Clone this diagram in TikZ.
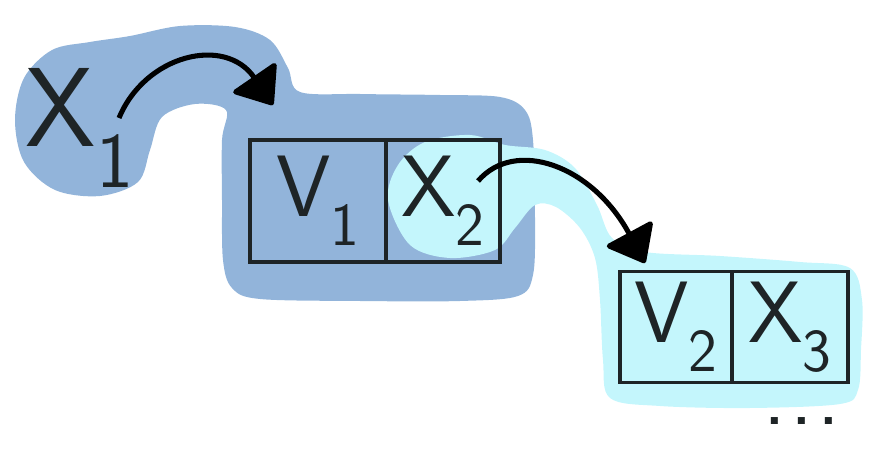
\documentclass[tikz,border=0pt]{standalone}
\usepackage{tikz}
\usepackage{xcolor}
\usetikzlibrary{positioning,arrows.meta}
\definecolor{deepblue}{HTML}{92B4DA}
\definecolor{paleblue}{HTML}{C4F6FC}
\definecolor{ink}{HTML}{1E2426}

\begin{document}
\begin{tikzpicture}[x=0.025cm, y=-0.025cm,
  every node/.style = {font=\sffamily\fontsize{62}{62}\selectfont,
    inner sep=0pt, outer sep=0pt, text=ink},
  cell/.style = {draw=ink, line width=2.6pt, rectangle},
  link/.style = {draw=black, line width=3.6pt,
    -{Triangle[length=0.9cm,width=1.4cm,round]}},
  blob/.style = {smooth cycle, tension=0.55}]
  \useasboundingbox (0,0) rectangle (890,452);
  \fill[deepblue] plot[blob] coordinates {(15,120) (24,78) (52,50) (90,42)
    (130,36) (180,26) (235,27) (270,40) (288,68) (300,92) (360,94) (440,95)
    (500,97) (525,110) (533,140) (535,220) (533,275) (518,296) (460,301)
    (360,301) (260,299) (232,288) (223,260) (222,200) (222,140) (226,110)
    (195,104) (162,117) (150,150) (138,182) (100,196) (55,190) (24,162)};
  \fill[paleblue] plot[blob] coordinates {(388,200) (398,165) (425,142)
    (470,135) (505,145) (545,150) (575,168) (597,205) (612,238) (645,252)
    (720,256) (800,262) (850,268) (862,300) (861,350) (858,390) (840,404)
    (750,408) (660,406) (610,398) (603,360) (600,300) (595,258) (580,228)
    (556,207) (535,205) (515,228) (495,250) (450,258) (410,245)};
  \node (x1) at (80,128) {\fontsize{80}{80}\selectfont X\textsubscript{1}};
  \node[cell, minimum width=3.4cm, minimum height=3.05cm] (v1) at (318,201) {V\textsubscript{1}};
  \node[cell, minimum width=2.85cm, minimum height=3.05cm, right=0pt of v1] (x2) {X\textsubscript{2}};
  \node[cell, minimum width=2.8cm, minimum height=2.78cm] (v2) at (676,327) {V\textsubscript{2}};
  \node[cell, minimum width=2.9cm, minimum height=2.78cm, right=0pt of v2] (x3) {X\textsubscript{3}};
  \node (more) at (802,421) {.\hspace{3pt}.\hspace{3pt}.};
  \coordinate (in1) at (273,105);
  \coordinate (in2) at (645,263);
  \draw[link] ([shift={(-15,-10)}]x1.east) .. controls (145,55) and (225,35) .. (in1);
  \draw[link] ([shift={(-22,-20)}]x2.east) .. controls (515,138) and (592,165) .. (in2);
\end{tikzpicture}
\end{document}
